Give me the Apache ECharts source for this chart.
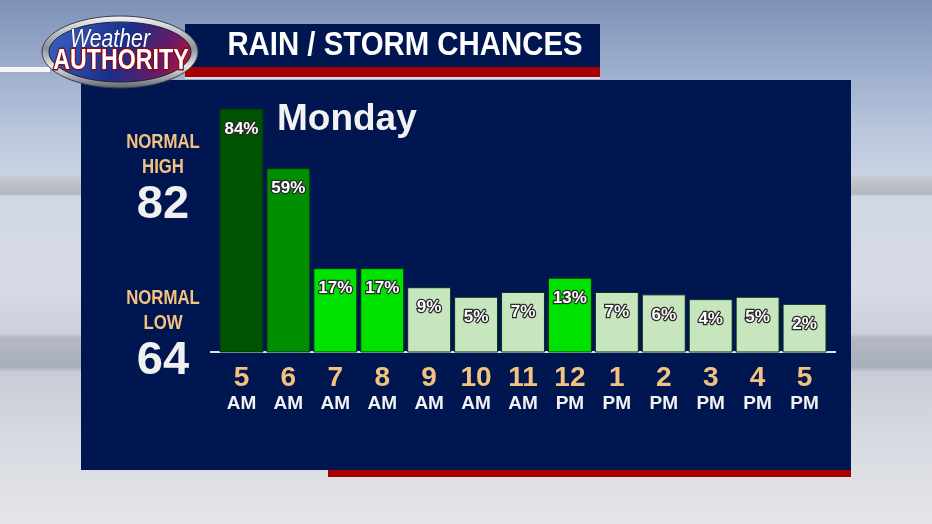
<!DOCTYPE html>
<html>
<head>
<meta charset="utf-8">
<script src="https://cdn.jsdelivr.net/npm/echarts@6/dist/echarts.min.js"></script>
<style>
html,body{margin:0;padding:0;overflow:hidden;}
#chart{width:932px;height:524px;}
</style>
</head>
<body>
<div id="chart"></div>
<script>
// chart data
var hours=['5','6','7','8','9','10','11','12','1','2','3','4','5'];
var periods=['AM','AM','AM','AM','AM','AM','AM','PM','PM','PM','PM','PM','PM'];
var rain=[84,59,17,17,9,5,7,13,7,6,4,5,2];
var dayName='Monday';
var normalHigh=82;
var normalLow=64;

// the graphic's bars don't start at 0%, so the value axis starts below 0
var axisFloor=-18;
var axisTop=100;

var sans='"Liberation Sans",Arial,sans-serif';

var myChart=echarts.init(document.getElementById('chart'));

//colour tier by chance
function barColor(v){
	if(v>=70) return '#005300';
	if(v>=30) return '#008f00';
	if(v>=10) return '#00e300';
	return '#c7e6be';
}

function renderBar(params,api){
	var i=api.value(0),v=api.value(1);
	var top=api.coord([i,v]);
	var base=api.coord([i,axisFloor]);
	var w=api.size([1,0])[0]*0.915;
	return {
		type:'group',
		children:[{
			type:'rect',
			shape:{x:top[0]-w/2,y:top[1],width:w,height:base[1]-top[1]},
			style:{fill:barColor(v),stroke:'#06301c',lineWidth:1}
		},{
			type:'text',
			style:{
				text:v+'%',x:top[0],y:top[1]+20,
				align:'center',verticalAlign:'middle',textAlign:'center',textVerticalAlign:'middle',
				font:'bold 17px '+sans,fill:'#ffffff',
				stroke:'#2a2a2a',lineWidth:2.5,
				shadowColor:'rgba(0,0,0,0.6)',shadowBlur:3,shadowOffsetX:1,shadowOffsetY:1
			}
		}]
	};
}

// text element, sx squeezes it horizontally (no narrow font installed)
function txt(x,y,s,font,color,align,sx,extra){
	var st={text:s,x:0,y:0,font:font,fill:color,
		align:align||'center',textAlign:align||'center',
		verticalAlign:'middle',textVerticalAlign:'middle'};
	if(extra){for(var k in extra) st[k]=extra[k];}
	return {type:'text',z:5,x:x,y:y,scaleX:sx||1,style:st};
}

var graphics=[
	// white line at far left
	{type:'rect',z:1,shape:{x:0,y:67,width:50,height:5},style:{fill:'#f4f6fa'}},
	// title banner
	{type:'rect',z:1,shape:{x:185,y:24,width:415,height:44},style:{fill:'#001650'}},
	{type:'rect',z:1,shape:{x:185,y:67,width:415,height:10},style:{fill:'#a60000'}},
	{type:'rect',z:1,shape:{x:185,y:77,width:415,height:2},style:{fill:'#d8dce6'}},
	txt(405,46,'RAIN / STORM CHANCES','bold 33px '+sans,'#ffffff','center',0.89),
	// main panel
	{type:'rect',z:0,shape:{x:81,y:80,width:770,height:390},style:{fill:'#001650'}},
	{type:'rect',z:0,shape:{x:328,y:470,width:523,height:7},style:{fill:'#a60000'}},
	// baseline under the bars
	{type:'rect',z:3,shape:{x:210,y:351,width:626,height:2},style:{fill:'#dfe2ea'}},
	// logo
	{type:'ellipse',z:3,shape:{cx:120,cy:52,rx:78,ry:36},style:{
		fill:{type:'linear',x:0,y:0,x2:0,y2:1,colorStops:[
			{offset:0,color:'#f4f5f8'},{offset:0.45,color:'#8c909a'},
			{offset:0.7,color:'#e4e6ec'},{offset:1,color:'#5c606a'}]},
		stroke:'#3a3e48',lineWidth:1}},
	{type:'ellipse',z:3,shape:{cx:120,cy:52,rx:71,ry:30},style:{
		fill:{type:'linear',x:0,y:0,x2:1,y2:1,colorStops:[
			{offset:0,color:'#3a64c8'},{offset:0.5,color:'#1a2f8c'},
			{offset:0.78,color:'#6a1a66'},{offset:1,color:'#d0102a'}]},
		stroke:'#20242e',lineWidth:1}},
	txt(110,40,'Weather','italic 25px '+sans,'#ffffff','center',0.85,{stroke:'#1a2a6a',lineWidth:1}),
	txt(121,61,'AUTHORITY','bold 29px '+sans,'#ffffff','center',0.8,
		{stroke:'#8a0c18',lineWidth:3,shadowColor:'rgba(0,0,0,0.7)',shadowBlur:2,shadowOffsetX:1,shadowOffsetY:1}),
	// day name
	txt(277,120,dayName,'bold 37px '+sans,'#f2f2f2','left'),
	// normals
	txt(163,142,'NORMAL','bold 21px '+sans,'#f2c27e','center',0.8),
	txt(163,167,'HIGH','bold 21px '+sans,'#f2c27e','center',0.8),
	txt(163,205,String(normalHigh),'bold 47px '+sans,'#f0f0f0','center'),
	txt(163,298,'NORMAL','bold 21px '+sans,'#f2c27e','center',0.8),
	txt(163,323,'LOW','bold 21px '+sans,'#f2c27e','center',0.8),
	txt(163,361,String(normalLow),'bold 47px '+sans,'#f0f0f0','center')
];

var option={
	animation:false,
	backgroundColor:{type:'linear',x:0,y:0,x2:0,y2:1,colorStops:[
		{offset:0,color:'#7f91b6'},{offset:0.12,color:'#9aabcb'},
		{offset:0.25,color:'#b9c6dc'},{offset:0.335,color:'#c9d2e2'},
		{offset:0.34,color:'#c4c7ce'},{offset:0.37,color:'#b4b8c2'},
		{offset:0.375,color:'#d2d8e3'},{offset:0.55,color:'#d6dbe5'},
		{offset:0.635,color:'#ccd0da'},{offset:0.645,color:'#b4b9c4'},
		{offset:0.70,color:'#a8aebb'},{offset:0.71,color:'#c8ccd6'},
		{offset:0.85,color:'#d8dbe2'},{offset:1,color:'#e4e5e8'}]},
	graphic:graphics,
	grid:{left:218,top:71,width:610,height:281},
	xAxis:{
		type:'category',
		data:hours.map(function(h,i){return h+' '+periods[i];}),
		axisTick:{show:false},
		axisLine:{onZero:false,lineStyle:{color:'#dfe2ea',width:2}},
		axisLabel:{
			interval:0,margin:12,
			formatter:function(val,idx){return '{h|'+hours[idx]+'}\n{p|'+periods[idx]+'}';},
			rich:{
				h:{fontFamily:sans,fontWeight:'bold',fontSize:28,color:'#f2c27e',lineHeight:28},
				p:{fontFamily:sans,fontWeight:'bold',fontSize:19,color:'#f2f2f2',lineHeight:24}
			}
		}
	},
	yAxis:{type:'value',min:axisFloor,max:axisTop,show:false},
	series:[{
		type:'custom',
		renderItem:renderBar,
		encode:{x:0,y:1},
		data:rain.map(function(v,i){return [i,v];}),
		z:4
	}]
};
myChart.setOption(option);
</script>
</body>
</html>
